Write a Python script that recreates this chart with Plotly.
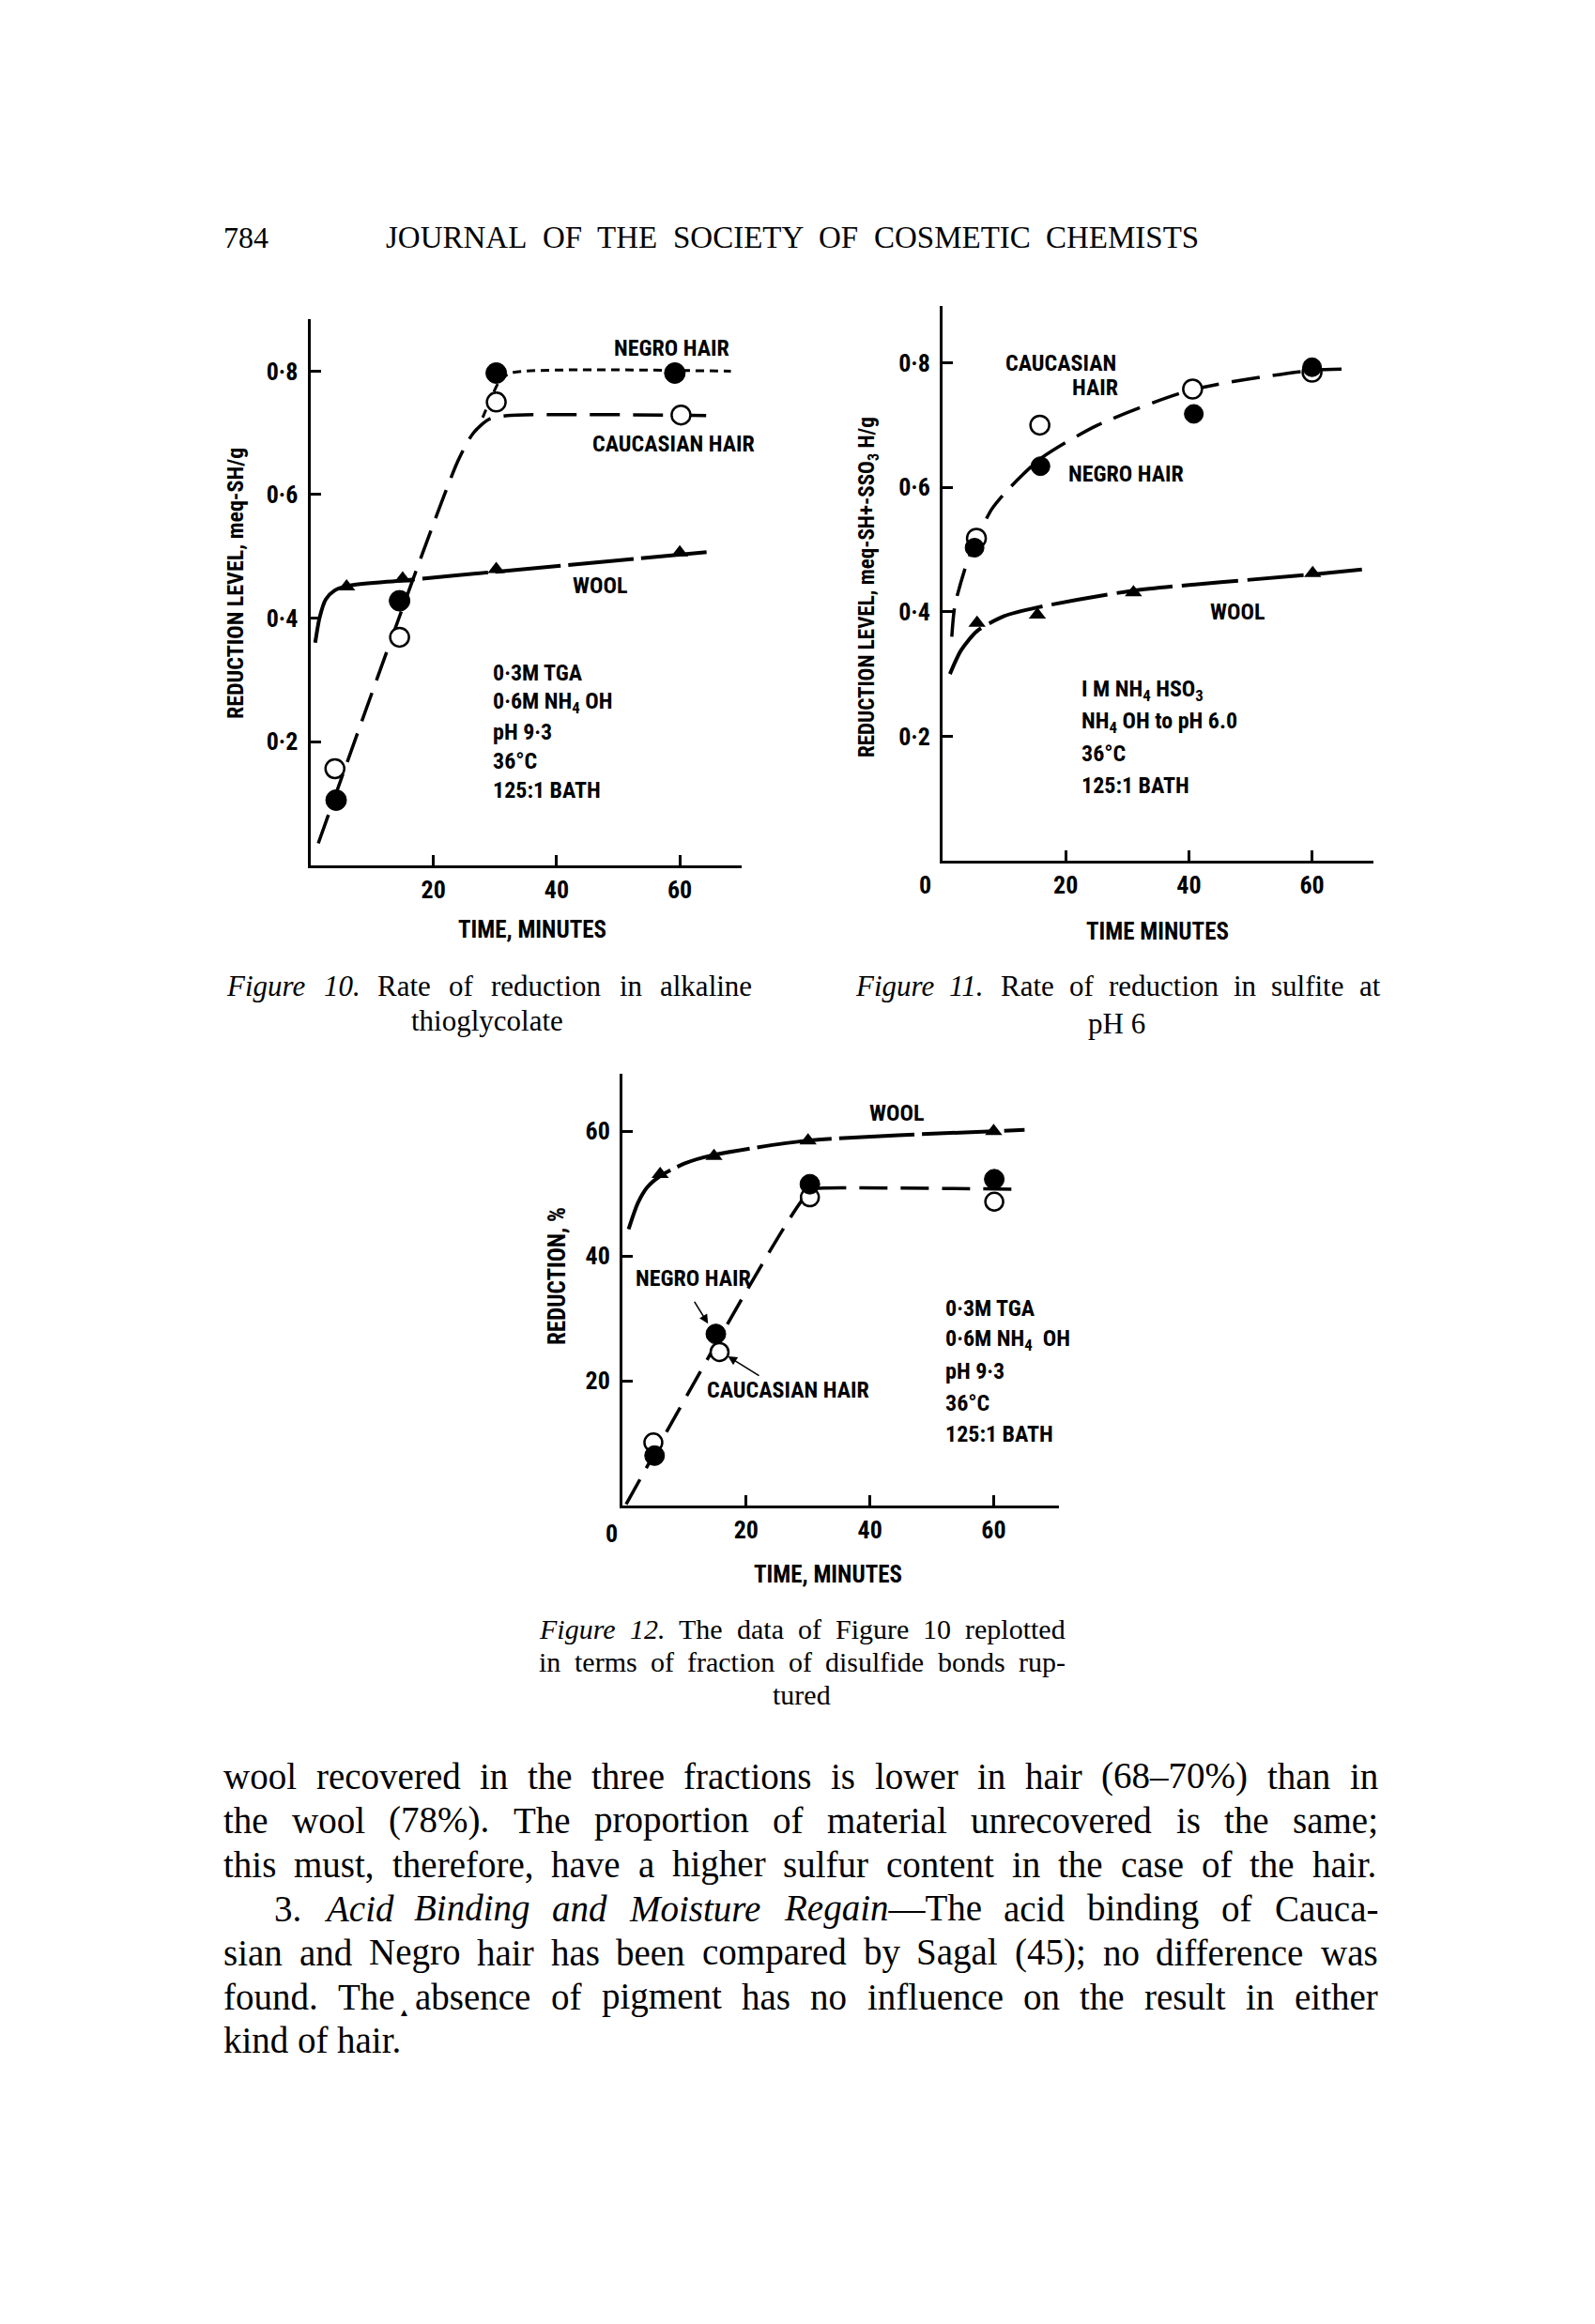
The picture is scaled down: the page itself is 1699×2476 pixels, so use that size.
import plotly.graph_objects as go

W, H = 1699, 2476          # page size
OFF = 8                    # default body margin of the html page
FW, FH = W - 2 * OFF, H - 2 * OFF
NARROW = "Roboto Condensed, Roboto, Liberation Sans Narrow, sans-serif"
SERIF = "Liberation Serif, Times New Roman, serif"

# ---------------- DATA ----------------
# Figure 10 (meq-SH/g vs time, min)
f10_negro_x = [4.2, 14.5, 30.2, 59.2]
f10_negro_y = [0.105, 0.428, 0.797, 0.797]
f10_cauc_x = [4.0, 14.5, 30.2, 60.2]
f10_cauc_y = [0.156, 0.369, 0.750, 0.729]
f10_wool_x = [5.9, 15.0, 30.2, 60.0]
f10_wool_y = [0.451, 0.464, 0.479, 0.506]
f10_wool_fit_x = [0.8, 1.5, 2.5, 4.0, 6.0, 15.0, 30.0, 64.5]
f10_wool_fit_y = [0.36, 0.40, 0.43, 0.445, 0.452, 0.461, 0.475, 0.507]
f10_cauc_fit_x = [1.3, 24.0, 26.5, 29.0, 32.0, 66.0]
f10_cauc_fit_y = [0.035, 0.655, 0.700, 0.722, 0.728, 0.728]
f10_negro_fit_x = [28.0, 29.5, 31.0, 33.0, 68.3]
f10_negro_fit_y = [0.725, 0.760, 0.788, 0.798, 0.800]
f10_xticks = [20, 40, 60]
f10_yticks = [0.2, 0.4, 0.6, 0.8]
f10_yticktext = ["0·2", "0·4", "0·6", "0·8"]

# Figure 11 (meq-SH + -SSO3H/g vs time, min)
f11_cauc_x = [5.5, 15.8, 40.6, 60.0]
f11_cauc_y = [0.518, 0.700, 0.758, 0.785]
f11_negro_x = [5.2, 15.9, 40.8, 60.0]
f11_negro_y = [0.503, 0.634, 0.718, 0.793]
f11_wool_x = [5.6, 15.4, 31.0, 60.1]
f11_wool_y = [0.382, 0.395, 0.431, 0.462]
f11_hair_fit_x = [1.5, 2.0, 3.8, 5.2, 8.0, 10.7, 15.9, 25.2, 40.6, 60.0, 66.0]
f11_hair_fit_y = [0.36, 0.41, 0.474, 0.51, 0.565, 0.597, 0.646, 0.70, 0.757, 0.788, 0.79]
f11_wool_fit_x = [1.2, 3.0, 5.6, 10.0, 15.4, 31.0, 60.0, 68.1]
f11_wool_fit_y = [0.30, 0.338, 0.369, 0.393, 0.407, 0.434, 0.46, 0.468]
f11_xticks = [20, 40, 60]
f11_yticks = [0.2, 0.4, 0.6, 0.8]
f11_yticktext = ["0·2", "0·4", "0·6", "0·8"]

# Figure 12 (reduction % vs time, min)
f12_wool_x = [6.1, 14.8, 30.0, 60.0]
f12_wool_y = [53.1, 56.0, 58.5, 60.0]
f12_negro_x = [5.2, 15.1, 30.3, 60.1]
f12_negro_y = [8.0, 27.5, 51.5, 52.3]
f12_cauc_x = [5.0, 15.7, 30.3, 60.1]
f12_cauc_y = [10.1, 24.6, 49.4, 48.7]
f12_wool_fit_x = [1.0, 2.5, 4.0, 6.1, 10.0, 14.8, 30.0, 60.0, 65.0]
f12_wool_fit_y = [44.3, 48.5, 51.0, 52.8, 54.8, 56.2, 58.5, 60.0, 60.2]
f12_hair_fit_x = [0.6, 29.5, 31.5, 33.0, 64.3]
f12_hair_fit_y = [0.2, 49.5, 50.8, 50.9, 50.7]
f12_xticks = [20, 40, 60]
f12_yticks = [20, 40, 60]
f12_yticktext = ["20", "40", "60"]

# ---------------- TEXT ----------------
header_number = "784"
header_title = "JOURNAL OF THE SOCIETY OF COSMETIC CHEMISTS"
f10_conditions = ["0·3M TGA", "0·6M NH<sub>4</sub> OH", "pH 9·3", "36°C", "125:1 BATH"]
f11_conditions = ["I M NH<sub>4</sub> HSO<sub>3</sub>", "NH<sub>4</sub> OH to pH 6.0", "36°C", "125:1 BATH"]
f12_conditions = ["0·3M TGA", "0·6M NH<sub>4</sub>  OH", "pH 9·3", "36°C", "125:1 BATH"]
body_lines = [
    "wool recovered in the three fractions is lower in hair (68–70%) than in",
    "the wool (78%).  The proportion of material unrecovered is the same;",
    "this must, therefore, have a higher sulfur content in the case of the hair.",
    "3.  <i>Acid</i> <i>Binding</i> <i>and</i> <i>Moisture</i> <i>Regain</i>—The acid binding of Cauca-",
    "sian and Negro hair has been compared by Sagal (45);  no difference was",
    "found.  The absence of pigment has no influence on the result in either",
    "kind of hair.",
]

# Times / Liberation Serif advance widths (1/1000 em)
TW = {' ': 250, '!': 333, '%': 833, '(': 333, ')': 333, ',': 250, '-': 333, '.': 250,
      ':': 278, ';': 278, '–': 500, '—': 1000, '°': 400}
for c in '0123456789':
    TW[c] = 500
TW.update(dict(A=722, B=667, C=667, D=722, E=611, F=556, G=722, H=722, I=333, J=389, K=722,
               L=611, M=889, N=722, O=722, P=556, Q=722, R=667, S=556, T=611, U=722, V=722,
               W=944, X=722, Y=722, Z=611))
TW.update(dict(a=444, b=500, c=444, d=500, e=444, f=333, g=500, h=500, i=278, j=278, k=500,
               l=278, m=778, n=500, o=500, p=500, q=500, r=333, s=389, t=278, u=500, v=500,
               w=722, x=500, y=500, z=444))
TWI = dict(TW)
TWI.update(dict(A=611, B=611, F=611, M=833, R=611, a=500, f=278, r=389, g=500))


def word_width(word, size):
    total, italic, i = 0, False, 0
    while i < len(word):
        if word.startswith('<i>', i):
            italic, i = True, i + 3
            continue
        if word.startswith('</i>', i):
            italic, i = False, i + 4
            continue
        tab = TWI if italic else TW
        total += tab.get(word[i], 500)
        i += 1
    return total / 1000 * size


annotations = []


def px2paper(px, py):
    return (px - OFF) / FW, 1 - (py - OFF) / FH


def add_text(px, py, text, size, family, xanchor='left', angle=0, color='black'):
    x, y = px2paper(px, py)
    annotations.append(dict(x=x, y=y, xref='paper', yref='paper', text=text, showarrow=False,
                            xanchor=xanchor, yanchor='middle', textangle=angle, borderpad=0,
                            font=dict(family=family, size=size, color=color)))


def justify(line, left, right, py, size, family=SERIF, just=True):
    words = line.split()
    widths = [word_width(w, size) for w in words]
    if just and len(words) > 1:
        gap = (right - left - sum(widths)) / (len(words) - 1)
    else:
        gap = 0.25 * size
    x = left
    spans = []
    for w, wd in zip(words, widths):
        add_text(x, py, w, size, family)
        spans.append((x, x + wd))
        x += wd + gap
    return spans


# ---------------- FIGURE ----------------
fig = go.Figure()
BLACK = 'black'


def line_trace(x, y, dash, xa, ya, width=3.5):
    return go.Scatter(x=x, y=y, mode='lines', xaxis=xa, yaxis=ya, showlegend=False,
                      hoverinfo='skip', cliponaxis=False,
                      line=dict(color=BLACK, width=width, dash=dash, shape='spline', smoothing=0.7))


def marker_trace(x, y, kind, xa, ya, size):
    if kind == 'filled':
        m = dict(symbol='circle', size=size, color=BLACK, line=dict(color=BLACK, width=1))
    elif kind == 'open':
        m = dict(symbol='circle', size=size, color='white', line=dict(color=BLACK, width=2.5))
    else:
        m = dict(symbol='triangle-up', size=size, color=BLACK, line=dict(color=BLACK, width=0))
    return go.Scatter(x=x, y=y, mode='markers', marker=m, xaxis=xa, yaxis=ya,
                      showlegend=False, cliponaxis=False)


# Figure 10
fig.add_trace(line_trace(f10_wool_fit_x, f10_wool_fit_y, '70px,8px', 'x', 'y', 4))
fig.add_trace(line_trace(f10_cauc_fit_x, f10_cauc_fit_y, '32px,14px', 'x', 'y'))
fig.add_trace(line_trace(f10_negro_fit_x, f10_negro_fit_y, '9px,6px', 'x', 'y', 3))
fig.add_trace(marker_trace(f10_wool_x, f10_wool_y, 'tri', 'x', 'y', 16))
fig.add_trace(marker_trace(f10_cauc_x, f10_cauc_y, 'open', 'x', 'y', 20))
fig.add_trace(marker_trace(f10_negro_x, f10_negro_y, 'filled', 'x', 'y', 22))

# Figure 11
fig.add_trace(line_trace(f11_wool_fit_x, f11_wool_fit_y, '60px,10px', 'x2', 'y2', 4))
fig.add_trace(line_trace(f11_hair_fit_x, f11_hair_fit_y, '30px,14px', 'x2', 'y2'))
fig.add_trace(marker_trace(f11_wool_x, f11_wool_y, 'tri', 'x2', 'y2', 16))
fig.add_trace(marker_trace(f11_cauc_x, f11_cauc_y, 'open', 'x2', 'y2', 20))
fig.add_trace(marker_trace(f11_negro_x, f11_negro_y, 'filled', 'x2', 'y2', 20))

# Figure 12
fig.add_trace(line_trace(f12_wool_fit_x, f12_wool_fit_y, '80px,8px', 'x3', 'y3', 4))
fig.add_trace(line_trace(f12_hair_fit_x, f12_hair_fit_y, '30px,14px', 'x3', 'y3'))
fig.add_trace(marker_trace(f12_wool_x, f12_wool_y, 'tri', 'x3', 'y3', 16))
fig.add_trace(marker_trace(f12_cauc_x, f12_cauc_y, 'open', 'x3', 'y3', 19))
fig.add_trace(marker_trace(f12_negro_x, f12_negro_y, 'filled', 'x3', 'y3', 21))

common = dict(showline=True, linecolor=BLACK, linewidth=3, ticks='inside', ticklen=11,
              tickwidth=2.5, tickcolor=BLACK, showgrid=False, zeroline=False, fixedrange=True,
              tickfont=dict(family=NARROW, size=26, color=BLACK, weight='bold'))


def xax(l, r, rng, vals, anchor):
    return dict(domain=[(l - OFF) / FW, (r - OFF) / FW], range=rng, anchor=anchor,
                tickvals=vals, ticktext=[str(v) for v in vals], ticklabelstandoff=1, **common)


def yax(b, t, rng, vals, text, anchor):
    return dict(domain=[1 - (b - OFF) / FH, 1 - (t - OFF) / FH], range=rng, anchor=anchor,
                tickvals=vals, ticktext=text, ticklabelstandoff=5, **common)


fig.update_layout(
    width=FW, height=FH, margin=dict(l=0, r=0, t=0, b=0),
    paper_bgcolor='white', plot_bgcolor='white',
    xaxis=xax(330.5, 789.7, [0, 70], f10_xticks, 'y'),
    yaxis=yax(921.5, 339.6, [0, 0.885], f10_yticks, f10_yticktext, 'x'),
    xaxis2=xax(1004, 1463.2, [0, 70], f11_xticks, 'y2'),
    yaxis2=yax(917, 325.6, [0, 0.892], f11_yticks, f11_yticktext, 'x2'),
    xaxis3=xax(663, 1128.3, [0, 70.6], f12_xticks, 'y3'),
    yaxis3=yax(1604, 1144, [0, 69.2], f12_yticks, f12_yticktext, 'x3'),
)

# ---- chart labels ----
B = lambda s: '<b>' + s + '</b>'
LS = 24  # label size
# Fig 10
add_text(653, 371, B('NEGRO HAIR'), LS, NARROW)
add_text(630, 473, B('CAUCASIAN HAIR'), LS, NARROW)
add_text(609, 624, B('WOOL'), LS, NARROW)
for i, t in enumerate(f10_conditions):
    add_text(524, 717 + 31.3 * i, B(t), LS, NARROW)
add_text(251, 622, B('REDUCTION LEVEL, meq-SH/g'), 24, NARROW, 'center', -90)
add_text(567, 990, B('TIME, MINUTES'), 25, NARROW, 'center')
# Fig 11
add_text(1190, 387, B('CAUCASIAN'), LS, NARROW, 'right')
add_text(1192, 413, B('HAIR'), LS, NARROW, 'right')
add_text(1137, 505, B('NEGRO HAIR'), LS, NARROW)
add_text(1288, 652, B('WOOL'), LS, NARROW)
for i, t in enumerate(f11_conditions):
    add_text(1151, 736 + 33.5 * i, B(t), LS, NARROW)
add_text(925, 626, B('REDUCTION LEVEL, meq-SH+-SSO<sub>3</sub> H/g'), 23, NARROW, 'center', -90)
add_text(1233, 992, B('TIME MINUTES'), 25, NARROW, 'center')
add_text(985, 943, B('0'), 26, NARROW, 'center')
# Fig 12
add_text(925, 1186, B('WOOL'), LS, NARROW)
add_text(676, 1362, B('NEGRO HAIR'), LS, NARROW)
add_text(752, 1481, B('CAUCASIAN HAIR'), LS, NARROW)
for i, t in enumerate(f12_conditions):
    add_text(1006, 1394 + 33.6 * i, B(t), LS, NARROW)
add_text(593, 1360, B('REDUCTION, %'), 25, NARROW, 'center', -90)
add_text(882, 1677, B('TIME, MINUTES'), 25, NARROW, 'center')
add_text(651, 1634, B('0'), 26, NARROW, 'center')
# arrows fig 12
for hx, hy, tx, ty in [(754.2, 1410.2, 738.8, 1385.3), (775.4, 1445.0, 810.0, 1466.5)]:
    x, y = px2paper(hx, hy)
    annotations.append(dict(x=x, y=y, xref='paper', yref='paper', text='', showarrow=True,
                            ax=tx - hx, ay=ty - hy, arrowhead=2, arrowsize=1.2,
                            arrowwidth=1.6, arrowcolor=BLACK, standoff=0))

# ---- page text ----
add_text(237, 253, header_number, 32, SERIF)
justify(header_title, 410, 1276, 253, 33)

justify("<i>Figure</i> <i>10.</i>  Rate of reduction in alkaline", 240, 800, 1050, 31)
add_text(519, 1088, "thioglycolate", 31, SERIF, 'center')
justify("<i>Figure</i> <i>11.</i>  Rate of reduction in sulfite at", 910, 1469, 1050, 31)
add_text(1189, 1090, "pH 6", 31, SERIF, 'center')
justify("<i>Figure</i> <i>12.</i>  The data of Figure 10 replotted", 573, 1134, 1735, 30)
justify("in terms of fraction of disulfide bonds rup-", 573, 1134, 1770, 30)
add_text(854, 1806, "tured", 30, SERIF, 'center')

body_y = [1892, 1939, 1986, 2033, 2080, 2127, 2173]
body_spans = []
for k, (line, py) in enumerate(zip(body_lines, body_y)):
    left = 291 if k == 3 else 237
    body_spans.append(justify(line, left, 1467, py, 39, just=(k != 6)))

# small insertion caret printed between "The" and "absence" in the original scan
caret_x = (body_spans[5][1][1] + body_spans[5][2][0]) / 2
add_text(caret_x, body_y[5] + 17, "▲", 9, "DejaVu Sans", 'center')

fig.update_layout(annotations=annotations)
fig.write_html("out.html")
